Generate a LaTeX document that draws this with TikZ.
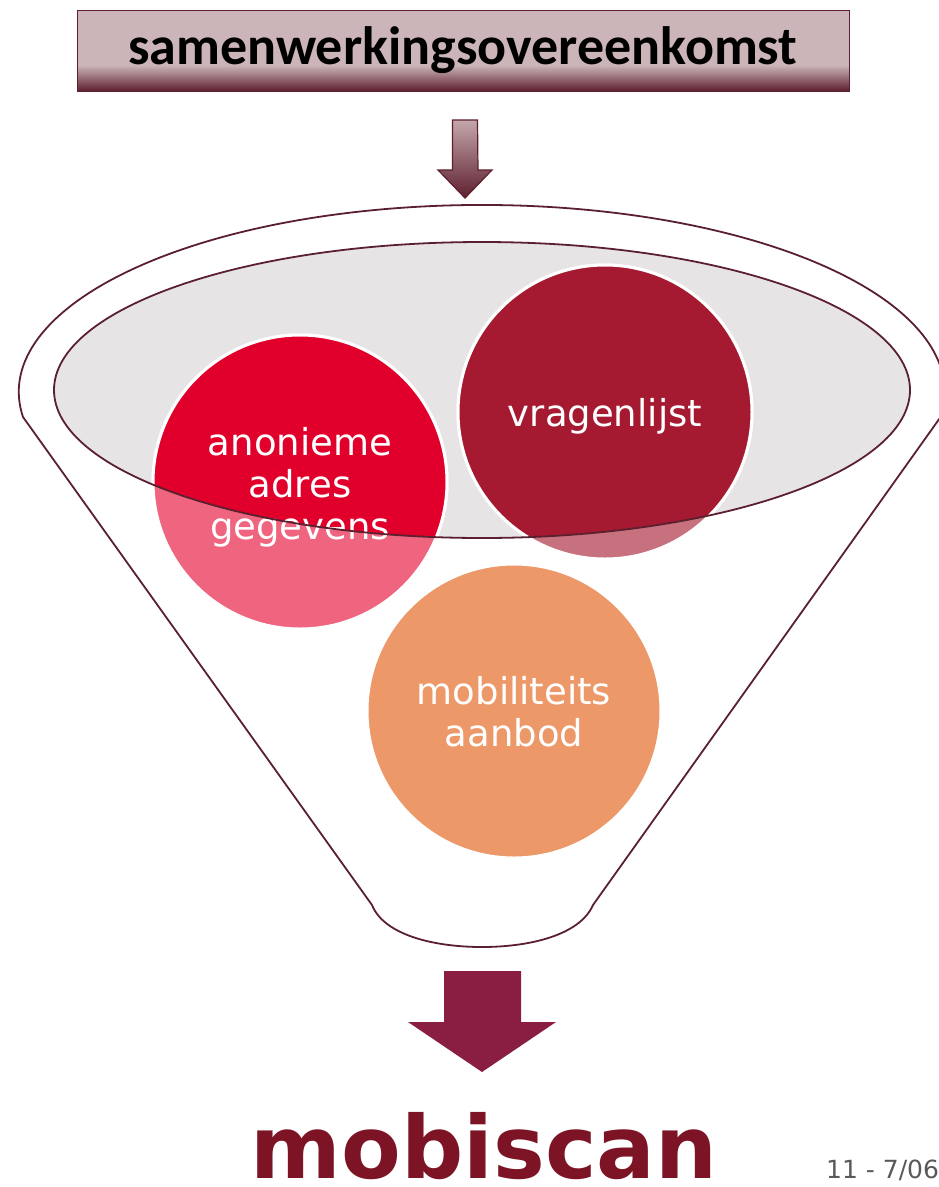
\documentclass[tikz,border=0pt]{standalone}
\usepackage{fontspec}
\setmainfont{DejaVu Sans}
\newfontfamily\titlefont{Carlito}
\usetikzlibrary{calc}
\definecolor{funnelline}{HTML}{5B2030}
\definecolor{boxlt}{HTML}{CBB5B8}
\definecolor{boxdk}{HTML}{5E1F2E}
\definecolor{arrlt}{HTML}{C4A7AC}
\definecolor{ellgray}{HTML}{E7E4E5}
\definecolor{redsat}{HTML}{E0002B}
\definecolor{redlt}{HTML}{EF6580}
\definecolor{winesat}{HTML}{A51931}
\definecolor{winelt}{HTML}{C8717E}
\definecolor{orangec}{HTML}{EC9868}
\definecolor{bigarrow}{HTML}{8A1D42}
\definecolor{mobired}{HTML}{7D1426}
\definecolor{dategray}{HTML}{595959}
\pgfdeclareverticalshading{boxshade}{100bp}{color(0bp)=(boxdk); color(25bp)=(boxdk); color(41bp)=(boxlt); color(100bp)=(boxlt)}
\tikzset{
  outline/.style={draw=funnelline, line width=1.8pt},
  bubble/.style={circle, minimum size=294pt, inner sep=0pt, draw=white, line width=3pt},
  bubbletext/.style={text=white, font=\fontsize{37}{42}\selectfont, align=center, inner sep=0pt},
}
\begin{document}
\begin{tikzpicture}[x=1pt,y=1pt]
\useasboundingbox (0,0) rectangle (938,-1187);
\fill[white] (0,0) rectangle (938,-1187);

% title box
\node[draw=boxdk, line width=1pt, shading=boxshade, minimum width=772pt, minimum height=81pt, inner sep=0pt,
      font=\titlefont\bfseries\fontsize{54}{60}\selectfont] (title) at (463,-50.5) {samenwerkingsovereenkomst};

% small arrow
\coordinate (sa) at (465,-120);
\coordinate (sb) at (465,-198);
\shade[top color=arrlt, bottom color=boxdk, draw=boxdk, line width=1.2pt]
  ($(sa)+(-12.5,0)$) -- ($(sa)+(12.5,0)$) -- (478,-170) -- (492,-170) -- (sb) -- (438,-170) -- (452.5,-170) -- cycle;

% funnel outline
\coordinate (fc) at (482,-392);
\coordinate (fl) at (23,-417);
\coordinate (fr) at (593,-905);
\coordinate (fbl) at (372,-905);
\draw[outline] (fl) arc[start angle=187.7, end angle=-7.7, x radius=463, y radius=187]
  -- (fr) .. controls (580,-935) and (530,-947) .. (482,-947)
  .. controls (434,-947) and (384,-935) .. (fbl) -- cycle;

% inner ellipse
\coordinate (ec) at (482,-390);
\fill[ellgray] (ec) ellipse[x radius=428, y radius=148];

% bubbles (light parts)
\node[bubble, fill=redlt] (c1) at (300,-482) {};
\node[bubble, fill=winelt] (c2) at (605,-412) {};
\node[bubble, fill=orangec] (c3) at (514,-711) {};

% saturated parts inside the ellipse
\begin{scope}
  \clip (ec) ellipse[x radius=428, y radius=148];
  \fill[redsat, draw=white, line width=3pt] (c1.center) circle[radius=147];
  \fill[winesat, draw=white, line width=3pt] (c2.center) circle[radius=147];
\end{scope}

% texts
\node[bubbletext] (t1) at ($(c1.center)+(0,-5)$) {anonieme\\adres\\gegevens};
\node[bubbletext] (t2) at ($(c2.center)+(0,-4)$) {vragenlijst};
\node[bubbletext] (t3) at ($(c3.center)+(0,-1)$) {mobiliteits\\aanbod};

% ellipse outline on top
\draw[outline] (ec) ellipse[x radius=428, y radius=148];

% big arrow
\coordinate (ba) at (482.5,-971);
\coordinate (bb) at (482,-1072);
\fill[bigarrow] ($(ba)+(-38.5,0)$) -- ($(ba)+(38.5,0)$) -- (521,-1022) -- (556,-1022) -- (bb) -- (408,-1022) -- (444,-1022) -- cycle;

% mobiscan
\node[anchor=base, inner sep=0pt, text=mobired, font=\bfseries\fontsize{87}{100}\selectfont] (mobi) at (484,-1178) {mobiscan};
\node[anchor=base west, inner sep=0pt, text=dategray, font=\fontsize{25}{30}\selectfont] (date) at (826,-1178) {11 - 7/06};
\end{tikzpicture}
\end{document}
